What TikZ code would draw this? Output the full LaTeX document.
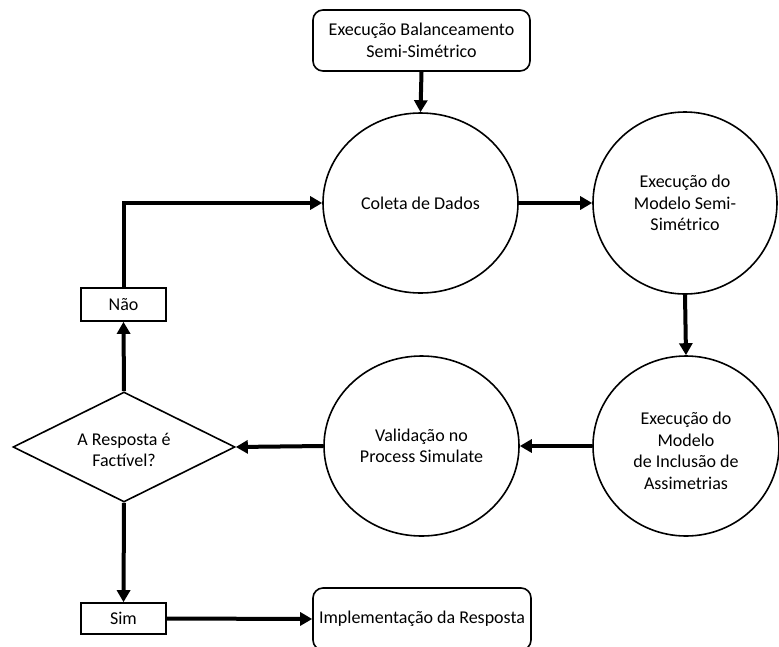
\documentclass[tikz,border=0pt]{standalone}
\usepackage{fontspec}
\setmainfont{Carlito}
\usetikzlibrary{shapes.geometric,arrows.meta}

\tikzset{
  txt/.style={font=\fontsize{18}{21.5}\selectfont, align=center},
  shapeline/.style={draw, line width=1.6pt, fill=white, inner sep=0pt},
  proc/.style={shapeline, ellipse, txt},
  roundbox/.style={shapeline, rectangle, rounded corners=10pt, txt},
  tagbox/.style={shapeline, rectangle, txt},
  flow/.style={line width=4pt, -{Triangle[length=12pt,width=13pt]}},
}

\begin{document}
\begin{tikzpicture}[x=1pt,y=-1pt]
  \useasboundingbox (0,0) rectangle (779,646);
  \clip (0,0) rectangle (779,646);

  % start box
  \node[roundbox, minimum width=217pt, minimum height=61pt] (start) at (421.5,40.5)
    {Execução Balanceamento\\Semi-Simétrico};

  % process ellipses
  \node[proc, minimum width=195pt, minimum height=180pt] (coleta) at (420.5,203)
    {Coleta de Dados};
  \node[proc, minimum width=184pt, minimum height=182pt] (semi) at (685,203)
    {Execução do\\Modelo Semi-\\Simétrico};
  \node[proc, minimum width=186pt, minimum height=180pt] (assim) at (686,446) {};
  \node[txt] (assimtxt) at (686,451)
    {Execução do\\Modelo\\de Inclusão de\\Assimetrias};
  \node[proc, minimum width=195pt, minimum height=180pt] (valid) at (421.5,446)
    {Validação no\\Process Simulate};

  % decision
  \node[shapeline, diamond, aspect=2, minimum width=222pt, minimum height=110pt] (dec) at (124,447) {};
  \node[txt] (dectxt) at (124,450) {A Resposta é\\Factível?};

  % answer tags
  \node[tagbox, minimum width=85pt, minimum height=33pt] (nao) at (123.5,304.5) {Não};
  \node[tagbox, minimum width=85pt, minimum height=31pt] (sim) at (123.5,618.5) {Sim};

  % final box
  \node[roundbox, minimum width=218pt, minimum height=62pt] (impl) at (422,619)
    {Implementação da Resposta};

  % connectors
  \draw[flow] (start.south) -- (coleta.north);
  \draw[flow] (coleta.east) -- (semi.west);
  \draw[flow] (semi.south) -- (assim.north);
  \draw[flow] (assim.west) -- (valid.east);
  \draw[flow] (valid.west) -- (dec.east);
  \draw[flow] (dec.north) -- (nao.south);
  \draw[flow] (nao.north) |- (coleta.west);
  \draw[flow] (dec.south) -- (sim.north);
  \draw[flow] (sim.east) -- (impl.west);
\end{tikzpicture}
\end{document}
